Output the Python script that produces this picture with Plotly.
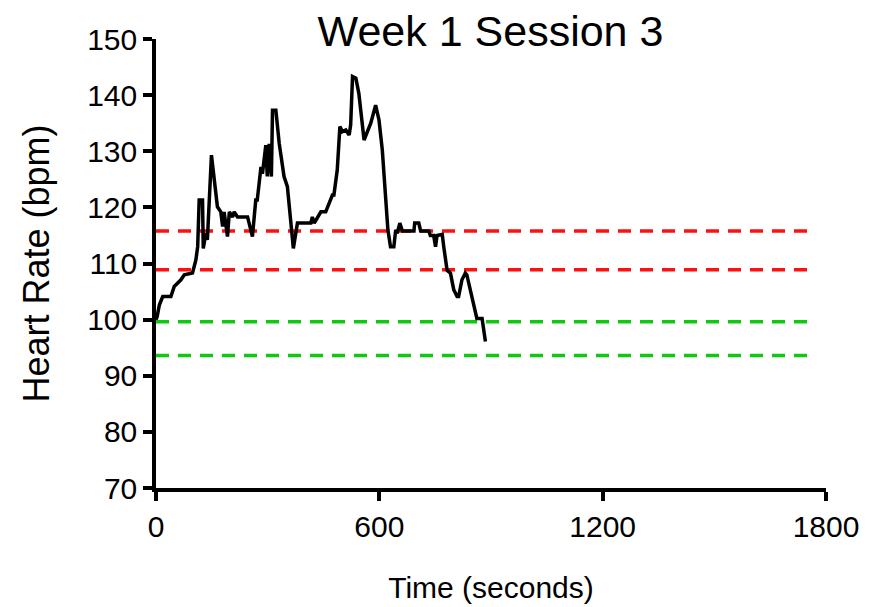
import plotly.graph_objects as go

time_s = [0, 3, 9, 18, 40, 49, 67, 76, 98, 107, 112, 116, 125, 127, 134, 138, 149, 156, 165, 174, 179, 183,
          192, 197, 206, 210, 219, 246, 259, 268, 272, 282, 286, 295, 299, 304, 310, 313, 322, 331, 344,
          353, 362, 369, 380, 416, 420, 425, 443, 456, 465, 474, 478, 487, 494, 501, 510, 519, 523, 528,
          537, 545, 559, 568, 577, 590, 599, 608, 617, 623, 630, 639, 644, 648, 655, 662, 693, 695, 706,
          711, 733, 737, 746, 751, 755, 769, 773, 782, 791, 800, 809, 813, 822, 831, 835, 845, 854, 862,
          876, 885]
heart_rate = [100.0, 100.5, 102.6, 104.1, 104.1, 105.9, 107.1, 108.0, 108.3, 110.6, 113.0, 121.3, 121.3,
              112.7, 115.4, 114.2, 129.3, 125.5, 120.1, 119.2, 116.6, 119.2, 114.8, 119.2, 118.3, 119.2,
              118.3, 118.3, 114.8, 121.3, 121.3, 127.2, 126.0, 131.1, 125.5, 131.3, 125.5, 137.3, 137.3,
              131.4, 125.5, 123.7, 116.6, 112.7, 117.2, 117.2, 118.3, 117.2, 119.2, 119.2, 120.7, 122.2,
              122.2, 126.7, 134.4, 133.5, 133.8, 132.9, 134.7, 143.3, 143.0, 140.3, 132.0, 133.5, 135.0,
              138.2, 135.6, 130.2, 122.5, 116.0, 113.0, 113.0, 116.0, 115.4, 117.2, 115.8, 115.8, 117.2,
              117.2, 115.8, 115.8, 115.0, 115.0, 113.0, 115.0, 115.2, 113.0, 108.8, 108.3, 105.3, 104.1,
              104.1, 107.1, 108.3, 108.0, 105.3, 102.3, 100.2, 100.2, 96.1]

red_levels = [115.8, 108.9]
green_levels = [99.6, 93.6]
x_span = [0, 1770]

x_ticks = [0, 600, 1200, 1800]
y_ticks = [70, 80, 90, 100, 110, 120, 130, 140, 150]

FONT = "Liberation Sans, Arial, sans-serif"

fig = go.Figure()
for lvl in red_levels:
    fig.add_trace(go.Scatter(x=x_span, y=[lvl, lvl], mode="lines",
                             line=dict(color="#ff1010", width=3.5, dash="13px,9px"),
                             showlegend=False, hoverinfo="skip"))
for lvl in green_levels:
    fig.add_trace(go.Scatter(x=x_span, y=[lvl, lvl], mode="lines",
                             line=dict(color="#10c810", width=3.5, dash="13px,9px"),
                             showlegend=False, hoverinfo="skip"))
fig.add_trace(go.Scatter(x=time_s, y=heart_rate, mode="lines",
                         line=dict(color="black", width=3.5), showlegend=False))

fig.update_layout(
    width=869, height=607,
    margin=dict(l=156, r=43, t=39, b=119, autoexpand=False),
    paper_bgcolor="white", plot_bgcolor="white",
    font=dict(family=FONT, color="black"),
    title=dict(text="Week 1 Session 3", x=(155 + 826) / 2 / 869, xanchor="center",
               y=1 - 31 / 607, yanchor="middle", yref="container",
               font=dict(size=43, family=FONT, color="black")),
)
fig.update_xaxes(range=[0, 1800], tickvals=x_ticks, ticktext=[str(v) for v in x_ticks],
                 automargin=False,
                 showline=True, linewidth=3.5, linecolor="black", showgrid=False, zeroline=False,
                 ticks="outside", ticklen=9, tickwidth=3.5, tickcolor="black",
                 tickfont=dict(size=30, family=FONT),
                 title=dict(text="Time (seconds)", font=dict(size=30, family=FONT), standoff=36))
fig.update_yaxes(range=[70, 150], tickvals=y_ticks, ticktext=[str(v) for v in y_ticks],
                 automargin=False,
                 showline=True, linewidth=3.5, linecolor="black", showgrid=False, zeroline=False,
                 ticks="outside", ticklen=9, tickwidth=3.5, tickcolor="black",
                 tickfont=dict(size=30, family=FONT),
                 title=dict(text="Heart Rate (bpm)", font=dict(size=36, family=FONT), standoff=28))

fig.write_html("out.html")
